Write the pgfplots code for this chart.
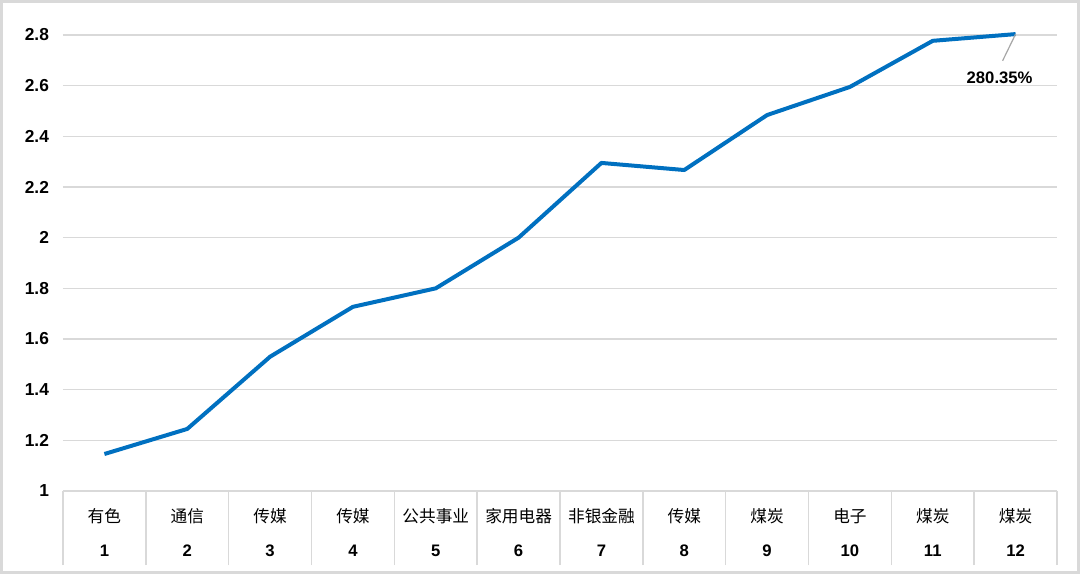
\documentclass[border=0pt]{standalone}
\usepackage{fontspec}
\setmainfont{Liberation Sans}
\newfontfamily\cjk{Noto Sans CJK SC}
\usepackage{pgfplots}
\pgfplotsset{compat=1.18}
\definecolor{lineblue}{HTML}{0070C0}
\definecolor{gridgray}{HTML}{D9D9D9}
\definecolor{leader}{HTML}{A6A6A6}

\begin{document}
\begin{tikzpicture}[x=0.75pt,y=0.75pt]
\useasboundingbox (0,0) rectangle (1080,574);
\draw[gridgray, line width=2pt] (1.3,1.3) rectangle (1078.7,572.7);
\begin{axis}[
    at={(47.25pt,62.25pt)}, anchor=south west,
    width=745.5pt, height=342pt, scale only axis,
    xmin=0.5, xmax=12.5,
    ymin=1, ymax=2.8,
    ytick={1,1.2,...,2.81},
    yticklabel style={font=\bfseries\fontsize{13}{15}\selectfont, text=black, xshift=-7pt},
    /pgf/number format/assume math mode=true,
    xtick={1,...,12},
    xticklabels={
      {{\cjk 有色}\\\textbf{1}},
      {{\cjk 通信}\\\textbf{2}},
      {{\cjk 传媒}\\\textbf{3}},
      {{\cjk 传媒}\\\textbf{4}},
      {{\cjk 公共事业}\\\textbf{5}},
      {{\cjk 家用电器}\\\textbf{6}},
      {{\cjk 非银金融}\\\textbf{7}},
      {{\cjk 传媒}\\\textbf{8}},
      {{\cjk 煤炭}\\\textbf{9}},
      {{\cjk 电子}\\\textbf{10}},
      {{\cjk 煤炭}\\\textbf{11}},
      {{\cjk 煤炭}\\\textbf{12}}},
    xticklabel style={align=center, text=black, font=\fontsize{12.5}{25.5}\selectfont, yshift=-9.5pt},
    minor xtick={0.5,1.5,...,12.5},
    xtick pos=bottom, ytick pos=left,
    major tick length=0pt,
    minor tick length=55.5pt,
    tick align=outside,
    minor tick style={gridgray, line width=1.1pt},
    axis line style={draw=none},
    ymajorgrids,
    grid style={gridgray, line width=1.1pt},
    clip=false,
]
\addplot[lineblue, line width=3pt, line join=round] coordinates {
    (1,1.146) (2,1.245) (3,1.530) (4,1.727) (5,1.800) (6,2.000)
    (7,2.295) (8,2.267) (9,2.484) (10,2.595) (11,2.777) (12,2.8035)
};
\draw[leader, line width=0.9pt] (axis cs:12,2.8035) -- ++(-9.75pt,-20pt);
\node[font=\bfseries\fontsize{12.5}{14}\selectfont] at ([shift={(-12pt,-33pt)}]axis cs:12,2.8035) {280.35\%};
\end{axis}
\end{tikzpicture}
\end{document}
